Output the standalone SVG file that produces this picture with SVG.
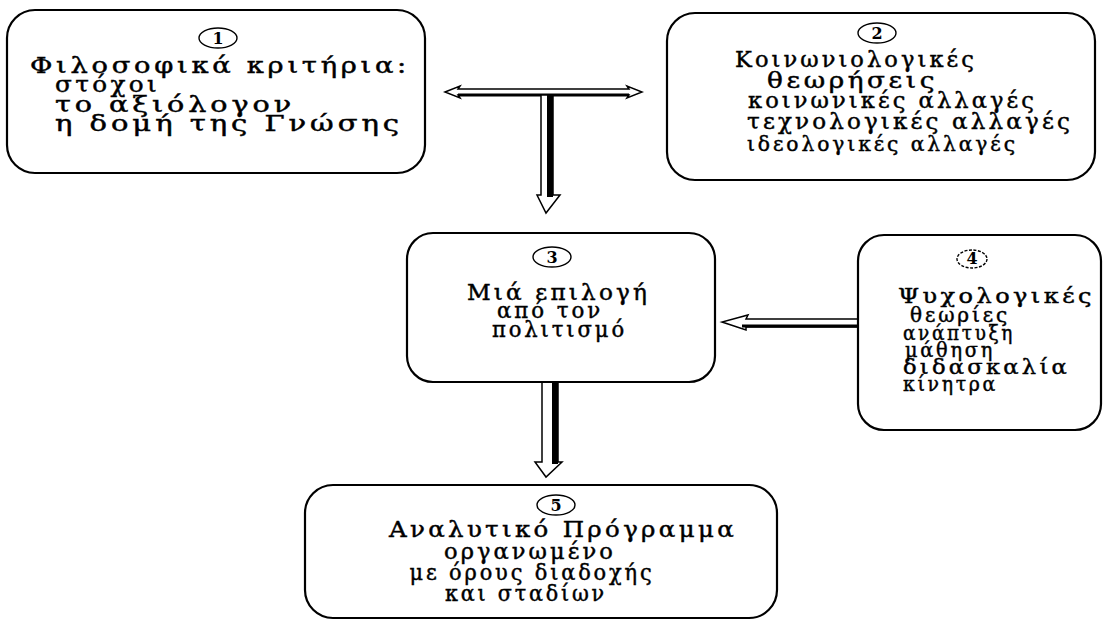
<svg xmlns="http://www.w3.org/2000/svg" width="1104" height="622" viewBox="0 0 1104 622">
  <style>
    .box { fill: #ffffff; stroke: #000000; stroke-width: 2.2; }
    .num { fill: none; stroke: #000000; stroke-width: 1.4; }
    .digit { font-family: "DejaVu Serif", "Liberation Serif", serif; font-size: 16px; font-weight: bold; text-anchor: middle; fill: #000000; }
    .t { font-family: "DejaVu Serif", "Liberation Serif", serif; font-size: 22px; letter-spacing: 3px; fill: #000000; stroke: #000000; stroke-width: 0.45; }
    .mid { text-anchor: middle; }
    .small { font-size: 21px; }
    .hollow { fill: #ffffff; stroke: #000000; stroke-width: 1.5; stroke-linejoin: miter; }
    .shade { fill: #000000; }
  </style>
  <rect width="1104" height="622" fill="#ffffff"/>

  <!-- connectors -->
  <g id="connectors">
    <!-- double-headed horizontal link between 1 and 2 -->
    <polygon class="hollow" points="445,92 460,86 458,89 629,89 627,86 642,92 627,98 629,95 458,95 460,98"/>
    <rect class="shade" x="458" y="93.5" width="171" height="3"/>
    <!-- drop from the link to 3 -->
    <polygon class="hollow" points="541,95 553,95 553,195 560,195 546,213 537,195 541,195"/>
    <rect class="shade" x="547" y="95" width="6" height="102"/>
    <!-- 4 into 3 -->
    <polygon class="hollow" points="858,319 746,319 748,315 722,322 746,330 746,327 858,327"/>
    <rect class="shade" x="742" y="324.5" width="116" height="3"/>
    <!-- 3 down to 5 -->
    <polygon class="hollow" points="542,382 558,382 558,462 562,462 546,477 535,462 542,462"/>
    <rect class="shade" x="552" y="382" width="6" height="82"/>
  </g>

  <!-- 1: philosophical criteria -->
  <g id="node1">
    <rect class="box" x="7" y="10" width="418" height="163" rx="28" ry="28"/>
    <ellipse class="num" cx="218" cy="38" rx="19" ry="10"/>
    <text class="digit" x="218" y="44">1</text>
    <text class="t" x="30" y="73" textLength="380" lengthAdjust="spacingAndGlyphs">Φιλοσοφικά κριτήρια:</text>
    <text class="t" x="55" y="92" textLength="105" lengthAdjust="spacingAndGlyphs">στόχοι</text>
    <text class="t" x="55" y="112" textLength="240" lengthAdjust="spacingAndGlyphs">το αξιόλογον</text>
    <text class="t" x="55" y="131" textLength="348" lengthAdjust="spacingAndGlyphs">η δομή της Γνώσης</text>
  </g>

  <!-- 2: sociological views -->
  <g id="node2">
    <rect class="box" x="667" y="13" width="428" height="167" rx="28" ry="28"/>
    <ellipse class="num" cx="877" cy="33" rx="19" ry="10"/>
    <text class="digit" x="877" y="39">2</text>
    <text class="t" x="735" y="67" textLength="242" lengthAdjust="spacingAndGlyphs">Κοινωνιολογικές</text>
    <text class="t" x="767" y="88" textLength="171" lengthAdjust="spacingAndGlyphs">θεωρήσεις</text>
    <text class="t" x="748" y="108" textLength="289" lengthAdjust="spacingAndGlyphs">κοινωνικές αλλαγές</text>
    <text class="t" x="747" y="129" textLength="326" lengthAdjust="spacingAndGlyphs">τεχνολογικές αλλαγές</text>
    <text class="t small" x="747" y="151" textLength="271" lengthAdjust="spacingAndGlyphs">ιδεολογικές αλλαγές</text>
  </g>

  <!-- 3: a selection from culture -->
  <g id="node3">
    <rect class="box" x="407" y="233" width="308" height="149" rx="26" ry="26"/>
    <ellipse class="num" cx="552" cy="257" rx="19" ry="10"/>
    <text class="digit" x="552" y="263">3</text>
    <text class="t" x="467" y="300" textLength="183" lengthAdjust="spacingAndGlyphs">Μιά επιλογή</text>
    <text class="t" x="497" y="318" textLength="106" lengthAdjust="spacingAndGlyphs">από τον</text>
    <text class="t" x="492" y="337" textLength="135" lengthAdjust="spacingAndGlyphs">πολιτισμό</text>
  </g>

  <!-- 4: psychological theories -->
  <g id="node4">
    <rect class="box" x="858" y="235" width="243" height="195" rx="26" ry="26"/>
    <ellipse class="num" cx="972" cy="259" rx="15" ry="9" stroke-dasharray="3 1.5"/>
    <text class="digit" x="972" y="264" font-size="13">4</text>
    <text class="t small" x="898" y="303" textLength="197" lengthAdjust="spacingAndGlyphs">Ψυχολογικές</text>
    <text class="t small" x="910" y="322" textLength="100" lengthAdjust="spacingAndGlyphs">θεωρίες</text>
    <text class="t small" x="903" y="340" textLength="112" lengthAdjust="spacingAndGlyphs">ανάπτυξη</text>
    <text class="t small" x="905" y="357" textLength="90" lengthAdjust="spacingAndGlyphs">μάθηση</text>
    <text class="t small" x="903" y="374" textLength="167" lengthAdjust="spacingAndGlyphs">διδασκαλία</text>
    <text class="t small" x="903" y="391" textLength="95" lengthAdjust="spacingAndGlyphs">κίνητρα</text>
  </g>

  <!-- 5: the curriculum -->
  <g id="node5">
    <rect class="box" x="305" y="485" width="472" height="133" rx="28" ry="28"/>
    <ellipse class="num" cx="556" cy="505" rx="19" ry="10"/>
    <text class="digit" x="556" y="511">5</text>
    <text class="t mid" x="563" y="537" textLength="348" lengthAdjust="spacingAndGlyphs">Αναλυτικό Πρόγραμμα</text>
    <text class="t mid" x="530" y="559" textLength="172" lengthAdjust="spacingAndGlyphs">οργανωμένο</text>
    <text class="t mid" x="532" y="580" textLength="245" lengthAdjust="spacingAndGlyphs">με όρους διαδοχής</text>
    <text class="t mid" x="526" y="601" textLength="162" lengthAdjust="spacingAndGlyphs">και σταδίων</text>
  </g>
</svg>
